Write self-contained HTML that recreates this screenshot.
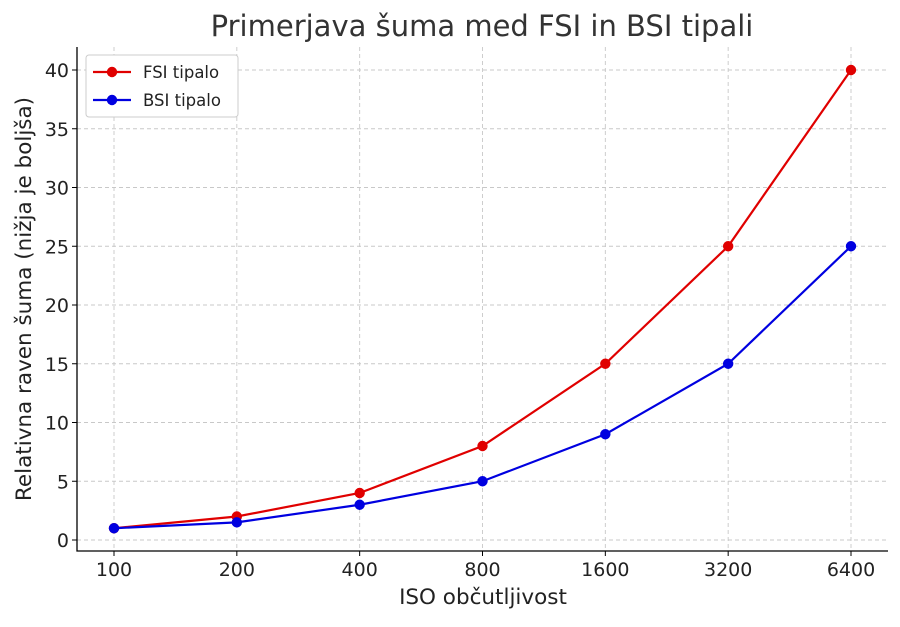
<!DOCTYPE html>
<html><head><meta charset="utf-8"><style>
body{margin:0;background:#fff}
svg{font-family:"DejaVu Sans","Liberation Sans",sans-serif}
</style></head><body>
<svg id="chart" width="900" height="622" viewBox="0 0 900 622"></svg>
<script>
const categories=["100","200","400","800","1600","3200","6400"];
const fsiValues=[1,2,4,8,15,25,40];
const bsiValues=[1,1.5,3,5,9,15,25];
const yTicks=[0,5,10,15,20,25,30,35,40];
const NS="http://www.w3.org/2000/svg";
const svg=document.getElementById('chart');
const L=77,R=888,T=47,B=551;
const x=i=>114+i*(851-114)/(categories.length-1);
const y=v=>540-v*(540-70)/40;
function mk(t,a,p){const e=document.createElementNS(NS,t);for(const k in a)e.setAttribute(k,a[k]);(p||svg).appendChild(e);return e;}
categories.forEach((c,i)=>{
 const g=mk('line',{x1:x(i),x2:x(i),y1:T,y2:B,stroke:'#c8c8c8','stroke-dasharray':'4,3','stroke-width':0.9});
 
 
 const tk=mk('line',{x1:x(i),x2:x(i),y1:B,y2:B+5,stroke:'#000'});
 
 
 const t=mk('text',{x:x(i),y:B+25,'text-anchor':'middle','font-size':19,fill:'#222'});t.textContent=c;
 
 
});
yTicks.forEach(v=>{
 const g=mk('line',{x1:L,x2:R,y1:y(v),y2:y(v),stroke:'#c8c8c8','stroke-dasharray':'4,3','stroke-width':0.9});
 
 
 const tk=mk('line',{x1:L-5,x2:L,y1:y(v),y2:y(v),stroke:'#000'});
 
 
 const t=mk('text',{x:L-8,y:y(v)+7,'text-anchor':'end','font-size':19,fill:'#222'});t.textContent=v;
 
 
});
const ax=mk('path',{d:`M${L},${T}V${B}H${R}`,fill:'none',stroke:'#000','stroke-width':1.3});


function series(vals,color,name){
 const p=mk('polyline',{points:vals.map((v,i)=>x(i)+','+y(v)).join(' '),fill:'none',stroke:color,'stroke-width':2.2});
 
 
 vals.forEach((v,i)=>{const c=mk('circle',{cx:x(i),cy:y(v),r:5.2,fill:color});
 
 });
}
series(fsiValues,'#e00000','fsi');
series(bsiValues,'#0000e0','bsi');
const title=mk('text',{x:482,y:36,'text-anchor':'middle','font-size':29,fill:'#333'});title.textContent='Primerjava šuma med FSI in BSI tipali';


const xl=mk('text',{x:483,y:604,'text-anchor':'middle','font-size':21.5,fill:'#222'});xl.textContent='ISO občutljivost';


const yl=mk('text',{x:0,y:0,'text-anchor':'middle','font-size':21.5,fill:'#222',transform:'translate(31,299) rotate(-90)'});yl.textContent='Relativna raven šuma (nižja je boljša)';


const lg=mk('g',{});


mk('rect',{x:86,y:55,width:152,height:62,rx:3,fill:'#fff',stroke:'#ccc'},lg);
[['FSI tipalo','#e00000',72],['BSI tipalo','#0000e0',100]].forEach(([n,c,yy])=>{
 const e=mk('g',{},lg);
 
 
 mk('line',{x1:93,x2:131,y1:yy,y2:yy,stroke:c,'stroke-width':2.2},e);
 mk('circle',{cx:112,cy:yy,r:5.2,fill:c},e);
 const t=mk('text',{x:143,y:yy+6,'font-size':16.5,fill:'#222'},e);t.textContent=n;
});
</script>
</body></html>
